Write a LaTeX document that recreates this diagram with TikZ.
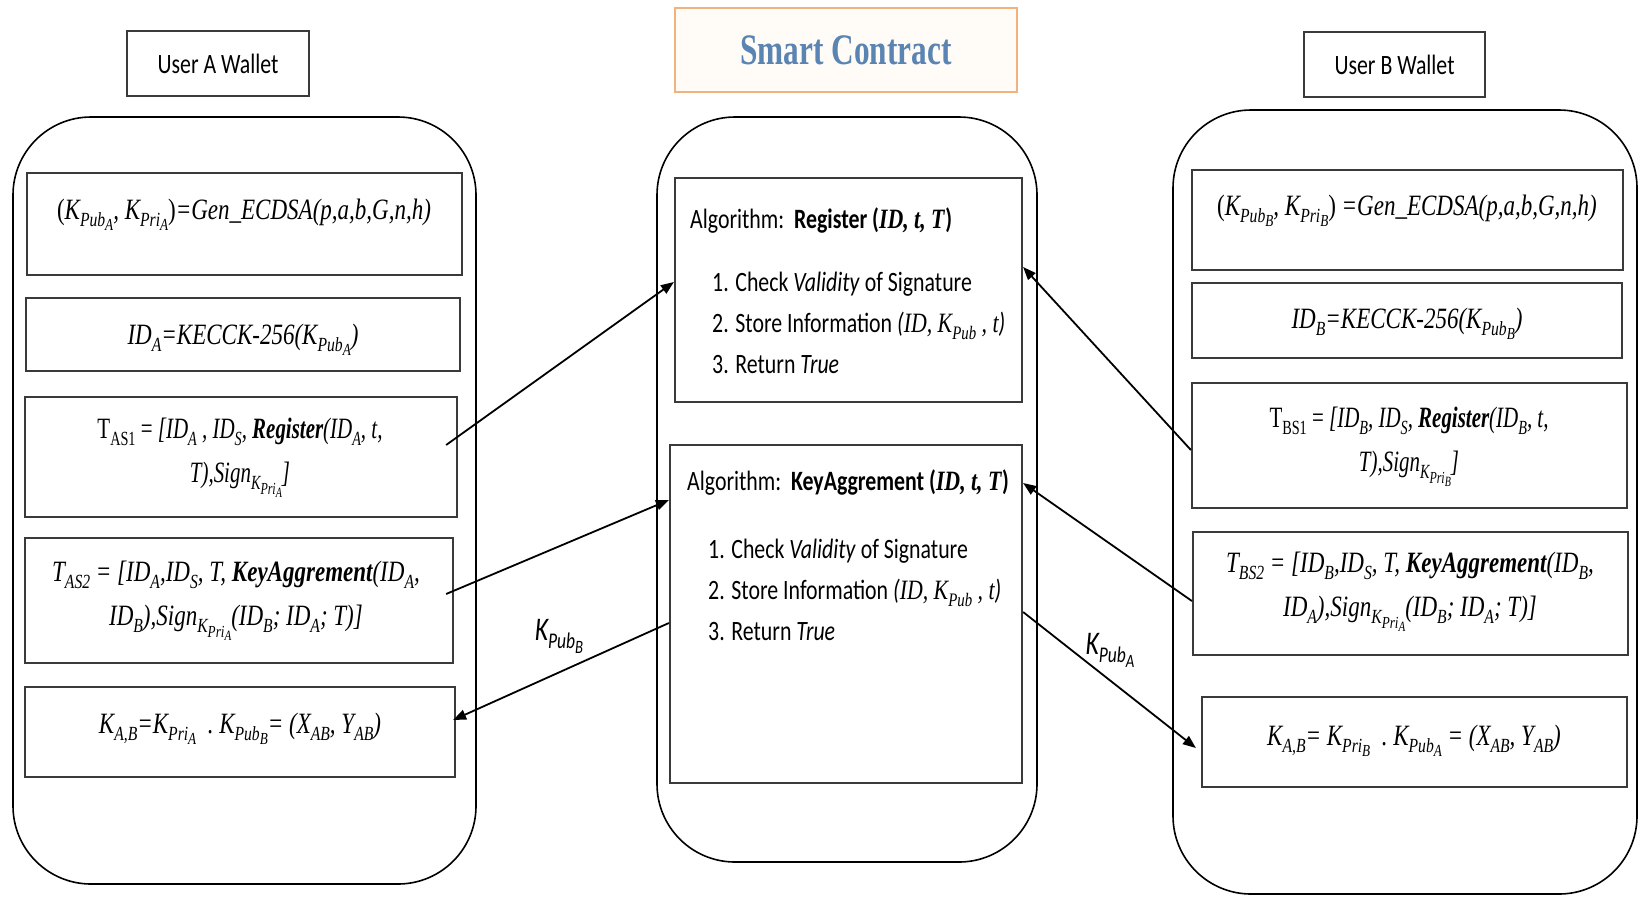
\documentclass[tikz,border=0pt]{standalone}
\usepackage{fontspec}
\setmainfont[FakeStretch=0.78]{Liberation Serif}
\newfontfamily\narrowserif[FakeStretch=0.71]{Liberation Serif}
\newfontfamily\uifont[FakeStretch=0.78]{Carlito}
\newfontfamily\titlefont[FakeStretch=0.72]{Liberation Serif}
\usetikzlibrary{arrows.meta}
% lowered, reduced subscripts in text mode (first and second level)
\newcommand{\lo}[1]{\raisebox{-0.24em}{\scalebox{0.68}{#1}}}
\newcommand{\loo}[1]{\raisebox{-0.22em}{\scalebox{0.84}{#1}}}
\newcommand{\Kx}[2]{K\lo{#1\loo{#2}}}
\definecolor{boxline}{HTML}{3A3A3A}
\definecolor{contractedge}{HTML}{F2B27E}
\definecolor{contracttext}{HTML}{5A84B2}
\tikzset{
  x=1pt, y=-1pt,
  wallet/.style={draw=black, line width=1.6pt, rounded corners=78pt},
  stepbox/.style={draw=boxline, line width=2.2pt, inner sep=0pt},
  mathtext/.style={font=\fontsize{29.5}{44}\selectfont\itshape, align=center, inner sep=0pt},
  uitext/.style={font=\uifont\fontsize{28}{41}\selectfont, inner sep=0pt, align=left},
  flowlabel/.style={font=\uifont\itshape\fontsize{33}{34}\selectfont, inner sep=0pt},
  flow/.style={line width=1.8pt, -{Triangle[length=13pt,width=10pt]}},
}
\begin{document}
\begin{tikzpicture}
\useasboundingbox (0,0) rectangle (1640,898);

% ---------- headers ----------
\node[stepbox, minimum width=182pt, minimum height=65pt, font=\uifont\fontsize{28}{30}\selectfont] (hA) at (218,63.5) {User A Wallet};
\node[stepbox, minimum width=181pt, minimum height=65pt, font=\uifont\fontsize{28}{30}\selectfont] (hB) at (1394.5,64.5) {User B Wallet};
\node[draw=contractedge, fill=orange!3, line width=2pt, minimum width=342pt, minimum height=84pt,
      text=contracttext, font=\titlefont\bfseries\fontsize{43.5}{45}\selectfont] (hS) at (846,50) {Smart Contract};

% ---------- containers ----------
\draw[wallet] (13,117) rectangle (476,884);
\draw[wallet] (657,117) rectangle (1037,862);
\draw[wallet] (1173,110) rectangle (1637,894);

% ---------- user A ----------
\node[stepbox, minimum width=435pt, minimum height=102pt] (A1) at (244.5,224) {};
\node[stepbox, minimum width=434pt, minimum height=73pt] (A2) at (243,334.5) {};
\node[stepbox, minimum width=432pt, minimum height=120pt] (A3) at (241,457) {};
\node[stepbox, minimum width=428pt, minimum height=125pt] (A4) at (239,600.5) {};
\node[stepbox, minimum width=430pt, minimum height=90pt] (A5) at (240,732) {};

\node[mathtext] (tA1) at (244,215) {\upshape(\itshape\Kx{Pub}{A}, \Kx{Pri}{A}\upshape)\itshape=Gen\_ECDSA(p,a,b,G,n,h)};
\node[mathtext] (tA2) at (243,340) {ID\lo{A}=KECCK-256(\Kx{Pub}{A})};
\node[mathtext, font=\narrowserif\fontsize{29.5}{44}\selectfont\itshape] (tA3) at (240,458) {\upshape T\lo{AS1} = \itshape[ID\lo{A} , ID\lo{S}, \textbf{Register}(ID\lo{A}, t,\\ T),Sign\lo{K\loo{Pri\loo{A}}}]};
\node[mathtext] (tA4) at (236,601) {T\lo{AS2} = [ID\lo{A},ID\lo{S}, T, \textbf{KeyAggrement}(ID\lo{A},\\ ID\lo{B}),Sign\lo{K\loo{Pri\loo{A}}}(ID\lo{B}; ID\lo{A}; T)]};
\node[mathtext] (tA5) at (240,729) {K\lo{A,B}=\Kx{Pri}{A}\ \ .\ \Kx{Pub}{B}= (X\lo{AB}, Y\lo{AB})};

% ---------- user B ----------
\node[stepbox, minimum width=431pt, minimum height=100pt] (B1) at (1407.5,220) {};
\node[stepbox, minimum width=430pt, minimum height=75pt] (B2) at (1407,320.5) {};
\node[stepbox, minimum width=435pt, minimum height=125pt] (B3) at (1409.5,445.5) {};
\node[stepbox, minimum width=435pt, minimum height=123pt] (B4) at (1410.5,593.5) {};
\node[stepbox, minimum width=425pt, minimum height=90pt] (B5) at (1414.5,742) {};

\node[mathtext] (tB1) at (1407,211) {\upshape(\itshape\Kx{Pub}{B}, \Kx{Pri}{B}\upshape) \itshape=Gen\_ECDSA(p,a,b,G,n,h)};
\node[mathtext] (tB2) at (1407,324) {ID\lo{B}=KECCK-256(\Kx{Pub}{B})};
\node[mathtext, font=\narrowserif\fontsize{29.5}{44}\selectfont\itshape] (tB3) at (1409,447) {\upshape T\lo{BS1} = \itshape[ID\lo{B}, ID\lo{S}, \textbf{Register}(ID\lo{B}, t,\\ T),Sign\lo{K\loo{Pri\loo{B}}}]};
\node[mathtext] (tB4) at (1410,592) {T\lo{BS2} = [ID\lo{B},ID\lo{S}, T, \textbf{KeyAggrement}(ID\lo{B},\\ ID\lo{A}),Sign\lo{K\loo{Pri\loo{A}}}(ID\lo{B}; ID\lo{A}; T)]};
\node[mathtext] (tB5) at (1414,741) {K\lo{A,B}= \Kx{Pri}{B}\ \ .\ \Kx{Pub}{A} = (X\lo{AB}, Y\lo{AB})};

% ---------- smart contract ----------
\node[stepbox, minimum width=347pt, minimum height=224pt] (Reg) at (848.5,290) {};
\node[stepbox, minimum width=352pt, minimum height=338pt] (KA) at (846,614) {};

\node[uitext, anchor=west] (tReg) at (690,221) {Algorithm:\ \ \textbf{Register} \textbf{(}{\rmfamily\bfseries\itshape ID, t, T}\textbf{)}};
\node[uitext, anchor=west] (iReg) at (712,323) {1. Check \textit{Validity} of Signature\\2. Store Information \textit{(}{\rmfamily\itshape ID, K\lo{Pub} , t}\textit{)}\\3. Return \textit{True}};
\node[uitext, anchor=west] (tKA) at (687,483) {Algorithm:\ \ \textbf{KeyAggrement} \textbf{(}{\rmfamily\bfseries\itshape ID, t, T}\textbf{)}};
\node[uitext, anchor=west] (iKA) at (708,590) {1. Check \textit{Validity} of Signature\\2. Store Information \textit{(}{\rmfamily\itshape ID, K\lo{Pub} , t}\textit{)}\\3. Return \textit{True}};

% ---------- message flows ----------
\draw[flow] ([xshift=-12pt,yshift=12pt]A3.east) -- ([yshift=8pt]Reg.west);
\draw[flow] ([xshift=-8pt,yshift=6.5pt]A4.east) -- ([yshift=114pt]KA.west);
\draw[flow] ([yshift=-9pt]KA.west) -- ([xshift=-3pt,yshift=12pt]A5.east);
\draw[flow] ([yshift=-4.5pt]B3.west) -- ([yshift=23pt]Reg.east);
\draw[flow] ([yshift=-7.5pt]B4.west) -- ([yshift=131pt]KA.east);
\draw[flow] ([yshift=2pt]KA.east) -- ([xshift=-5pt,yshift=-6pt]B5.west);

\node[flowlabel] (lB) at (559,636) {K\lo{Pub\loo{B}}};
\node[flowlabel] (lA) at (1110,650) {K\lo{Pub\loo{A}}};
\end{tikzpicture}
\end{document}
